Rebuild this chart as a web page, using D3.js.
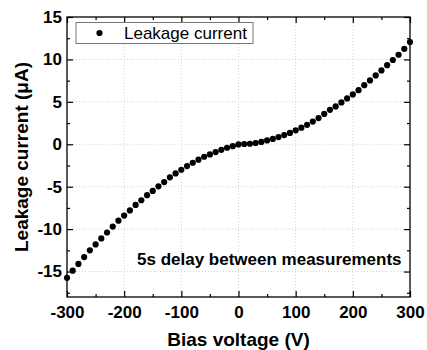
<!DOCTYPE html>
<html>
<head>
<meta charset="utf-8">
<script src="https://cdn.jsdelivr.net/npm/d3@7"></script>
<style>
  body { margin: 0; background: #fff; }
  svg { font-family: Arial, "Liberation Sans", sans-serif; }
</style>
</head>
<body>
<div class="svg-container"></div>
<script>
// bias voltage (V) and measured leakage current (uA)
const voltages = d3.range(-300, 301, 10);
const currents = [
  -15.74, -14.9, -14.1, -13.3, -12.5, -11.8, -11.1, -10.4, -9.7, -9.0,
  -8.4, -7.8, -7.15, -6.6, -6.0, -5.5, -4.96, -4.45, -3.9, -3.44,
  -3.0, -2.57, -2.18, -1.82, -1.47, -1.2, -0.92, -0.65, -0.41, -0.22,
  -0.02, 0.03, 0.06, 0.15, 0.28, 0.45, 0.63, 0.85, 1.08, 1.34,
  1.64, 1.96, 2.29, 2.67, 3.09, 3.58, 4.06, 4.46, 4.93, 5.40,
  5.87, 6.38, 6.97, 7.52, 8.12, 8.70, 9.32, 9.93, 10.55, 11.25,
  12.05
];
const xTicks = [-300, -200, -100, 0, 100, 200, 300];
const yTicks = [-15, -10, -5, 0, 5, 10, 15];
const xMinor = d3.range(-250, 300, 100);
const yMinor = d3.range(-17.5, 15, 5);

const data = voltages.map((v, i) => ({ v: v, i: currents[i] }));

const width = 427;
const height = 350;
const margin = { top: 17, right: 17, bottom: 53, left: 67 };

const svg = d3.select('.svg-container')
  .append('svg')
  .attr('width', width)
  .attr('height', height)

const x = d3.scaleLinear()
  .domain([-300, 300])
  .range([margin.left, width - margin.right])

const y = d3.scaleLinear()
  .domain([-18, 15])
  .range([height - margin.bottom, margin.top])

// plain hyphen for negative tick labels, like the original
const fmt = d => String(d);

// dotted grid at major ticks
svg.append('g')
  .selectAll('line')
  .data(xTicks.slice(1, -1))
  .join('line')
  .attr('x1', d => x(d)).attr('x2', d => x(d))
  .attr('y1', y(-18)).attr('y2', y(15))
  .attr('stroke', '#d0d0d0')
  .attr('stroke-dasharray', '1,2')

svg.append('g')
  .selectAll('line')
  .data(yTicks.slice(0, -1))
  .join('line')
  .attr('y1', d => y(d)).attr('y2', d => y(d))
  .attr('x1', x(-300)).attr('x2', x(300))
  .attr('stroke', '#d0d0d0')
  .attr('stroke-dasharray', '1,2')

// axes with inward ticks on all four sides
function styleAxis(g) {
  g.select('.domain').remove();
  g.selectAll('line').attr('stroke', '#000').attr('stroke-width', 1.2);
  g.selectAll('text')
    .attr('font-size', 17)
    .attr('font-weight', 'bold')
    .attr('fill', '#000')
    .attr('font-family', 'Arial, "Liberation Sans", sans-serif');
}

const plotH = y(-18) - y(15);
const plotW = x(300) - x(-300);

svg.append('g')
  .attr('transform', `translate(0, ${y(-18)})`)
  .call(d3.axisBottom(x).tickValues(xTicks).tickSize(-6).tickPadding(9).tickFormat(fmt))
  .call(styleAxis)

svg.append('g')
  .attr('transform', `translate(0, ${y(-18)})`)
  .call(d3.axisBottom(x).tickValues(xMinor).tickSize(-3).tickFormat(''))
  .call(styleAxis)

svg.append('g')
  .attr('transform', `translate(0, ${y(15)})`)
  .call(d3.axisTop(x).tickValues(xTicks).tickSize(-6).tickFormat(''))
  .call(styleAxis)

svg.append('g')
  .attr('transform', `translate(0, ${y(15)})`)
  .call(d3.axisTop(x).tickValues(xMinor).tickSize(-3).tickFormat(''))
  .call(styleAxis)

svg.append('g')
  .attr('transform', `translate(${x(-300)}, 0)`)
  .call(d3.axisLeft(y).tickValues(yTicks).tickSize(-6).tickPadding(5).tickFormat(fmt))
  .call(styleAxis)

svg.append('g')
  .attr('transform', `translate(${x(-300)}, 0)`)
  .call(d3.axisLeft(y).tickValues(yMinor).tickSize(-3).tickFormat(''))
  .call(styleAxis)

svg.append('g')
  .attr('transform', `translate(${x(300)}, 0)`)
  .call(d3.axisRight(y).tickValues(yTicks).tickSize(-6).tickFormat(''))
  .call(styleAxis)

svg.append('g')
  .attr('transform', `translate(${x(300)}, 0)`)
  .call(d3.axisRight(y).tickValues(yMinor).tickSize(-3).tickFormat(''))
  .call(styleAxis)

// frame
svg.append('rect')
  .attr('x', x(-300)).attr('y', y(15))
  .attr('width', plotW).attr('height', plotH)
  .attr('fill', 'none')
  .attr('stroke', '#000')
  .attr('stroke-width', 1.3)

// data points
svg.append('g')
  .selectAll('circle')
  .data(data)
  .join('circle')
  .attr('cx', d => x(d.v))
  .attr('cy', d => y(d.i))
  .attr('r', 3.1)
  .attr('fill', '#000')

// legend
svg.append('rect')
  .attr('x', 76).attr('y', 22.5)
  .attr('width', 177).attr('height', 21)
  .attr('fill', '#fff')
  .attr('stroke', '#777')
  .attr('stroke-width', 1)

svg.append('circle')
  .attr('cx', 99.5).attr('cy', 33)
  .attr('r', 3.1)
  .attr('fill', '#000')

svg.append('text')
  .text('Leakage current')
  .attr('x', 124).attr('y', 39)
  .attr('font-size', 17)
  .attr('fill', '#000')

// annotation
svg.append('text')
  .text('5s delay between measurements')
  .attr('x', 137).attr('y', 265)
  .attr('font-size', 17)
  .attr('font-weight', 'bold')
  .attr('fill', '#000')

// axis titles
svg.append('text')
  .text('Bias voltage (V)')
  .attr('x', (x(-300) + x(300)) / 2)
  .attr('y', 346)
  .attr('text-anchor', 'middle')
  .attr('font-size', 19)
  .attr('font-weight', 'bold')

svg.append('text')
  .text('Leakage current (\u03bcA)')
  .attr('transform', `translate(28, ${(y(-18) + y(15)) / 2}) rotate(-90)`)
  .attr('text-anchor', 'middle')
  .attr('font-size', 19)
  .attr('font-weight', 'bold')
</script>
</body>
</html>
